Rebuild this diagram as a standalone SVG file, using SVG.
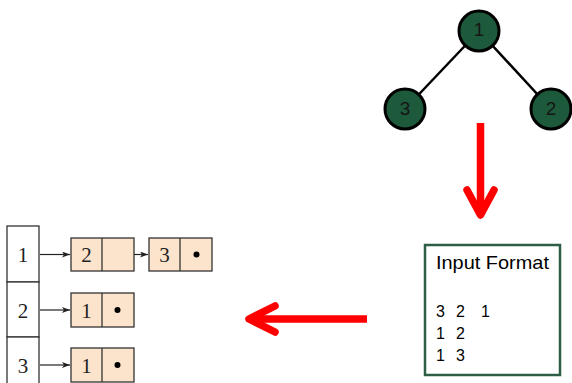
<svg xmlns="http://www.w3.org/2000/svg" width="572" height="383" viewBox="0 0 572 383">
<style>
.edge{stroke:#000;stroke-width:2.5;fill:none}
.tnode{fill:#1d5a3c;stroke:#000;stroke-width:3}
.tlab{font-family:"Liberation Sans",Arial,sans-serif;font-size:19px;fill:#151515;text-anchor:middle}
.red{stroke:#ff0000;stroke-width:7.5;fill:none;stroke-linecap:round;stroke-linejoin:round}
.redshaft{stroke:#ff0000;stroke-width:7.5;fill:none}
.col{fill:#fff;stroke:#333;stroke-width:1.3}
.cell{fill:#fbe3cc;stroke:#333;stroke-width:1.3}
.ser{font-family:"Liberation Serif","DejaVu Serif",serif;font-size:21px;fill:#222;text-anchor:middle}
.ptr{stroke:#222;stroke-width:1.2;fill:none;marker-end:url(#ah)}
.inp{font-family:"Liberation Sans",Arial,sans-serif;fill:#000}
</style>
<defs>
<marker id="ah" viewBox="0 0 8 6" refX="8" refY="3" markerWidth="8" markerHeight="6" markerUnits="userSpaceOnUse" orient="auto">
<path d="M0,0 L8,3 L0,6 L2,3 Z" fill="#222"/>
</marker>
</defs>
<g id="connectors">
<line class="edge" x1="479" y1="31" x2="405" y2="109"/>
<line class="edge" x1="479" y1="31" x2="551" y2="109"/>
<g id="arrow-down">
<line class="redshaft" x1="480.5" y1="123" x2="480.5" y2="212"/>
<polyline class="red" points="467,190 480.5,215 494,190"/>
</g>
<g id="arrow-left">
<line class="redshaft" x1="367" y1="319" x2="252" y2="319"/>
<polyline class="red" points="275,306 249,319 275,332"/>
</g>
<line class="ptr" x1="40" y1="254.5" x2="70" y2="254.5"/>
<line class="ptr" x1="40" y1="310" x2="70" y2="310"/>
<line class="ptr" x1="40" y1="365" x2="70" y2="365"/>
<line class="ptr" x1="117" y1="254.5" x2="148" y2="254.5"/>
</g>
<g id="node-1"><circle class="tnode" cx="479" cy="31" r="20"/><text class="tlab" x="479" y="36">1</text></g>
<g id="node-3"><circle class="tnode" cx="405" cy="109" r="20"/><text class="tlab" x="405" y="115">3</text></g>
<g id="node-2"><circle class="tnode" cx="551" cy="109" r="20"/><text class="tlab" x="551" y="115">2</text></g>
<g id="input-format">
<rect x="425" y="245" width="135" height="130" fill="#fff" stroke="#2d5e45" stroke-width="2.5"/>
<text class="inp" x="436" y="269" font-size="18.5" textLength="113" lengthAdjust="spacingAndGlyphs">Input Format</text>
<text class="inp" font-size="16" y="317"><tspan x="436">3</tspan><tspan x="456">2</tspan><tspan x="481">1</tspan></text>
<text class="inp" font-size="16" y="339"><tspan x="436">1</tspan><tspan x="456">2</tspan></text>
<text class="inp" font-size="16" y="361"><tspan x="436">1</tspan><tspan x="456">3</tspan></text>
</g>
<g id="adj-array">
<rect class="col" x="7" y="226" width="32" height="56"/>
<rect class="col" x="7" y="282" width="32" height="55"/>
<rect class="col" x="7" y="337" width="32" height="50"/>
<text class="ser" x="23" y="262">1</text>
<text class="ser" x="23" y="318">2</text>
<text class="ser" x="23" y="373">3</text>
</g>
<g id="list-1a">
<rect class="cell" x="71" y="238" width="63" height="33"/>
<line x1="102" y1="238" x2="102" y2="271" stroke="#333" stroke-width="1.3"/>
<text class="ser" x="86.5" y="262">2</text>
</g>
<g id="list-1b">
<rect class="cell" x="149" y="238" width="63" height="33"/>
<line x1="180" y1="238" x2="180" y2="271" stroke="#333" stroke-width="1.3"/>
<text class="ser" x="164.5" y="262">3</text>
<circle cx="196.5" cy="254.5" r="3" fill="#000"/>
</g>
<g id="list-2">
<rect class="cell" x="71" y="293" width="63" height="34"/>
<line x1="102" y1="293" x2="102" y2="327" stroke="#333" stroke-width="1.3"/>
<text class="ser" x="86.5" y="318">1</text>
<circle cx="117.5" cy="310" r="3" fill="#000"/>
</g>
<g id="list-3">
<rect class="cell" x="71" y="348" width="63" height="34"/>
<line x1="102" y1="348" x2="102" y2="382" stroke="#333" stroke-width="1.3"/>
<text class="ser" x="86.5" y="373">1</text>
<circle cx="117.5" cy="365" r="3" fill="#000"/>
</g>
</svg>
